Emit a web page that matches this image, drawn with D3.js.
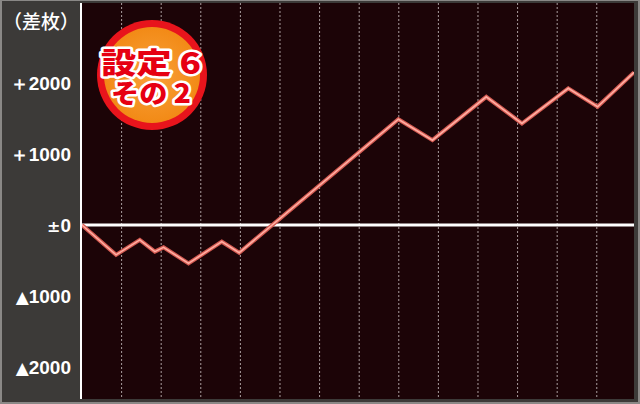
<!DOCTYPE html>
<html><head><meta charset="utf-8">
<script src="https://cdn.jsdelivr.net/npm/d3@7"></script>
<style>html,body{margin:0;padding:0;background:#3b3937;}svg{display:block;}</style>
</head><body>
<script>
const games = [0, 430, 730, 920, 1030, 1345, 1765, 1985, 3995, 4425, 5105, 5555, 6140, 6510, 6970];
const diff  = [0, -420, -210, -375, -315, -540, -235, -390, 1490, 1195, 1805, 1430, 1925, 1665, 2150];
const gridGames = [500,1000,1500,2000,2500,3000,3500,4000,4500,5000,5500,6000,6500];
const yTicks = [2000, 1000, 0, -1000, -2000];
const yLabels = ["＋2000", "＋1000", "±0", "▲1000", "▲2000"];
const badgeLines = ["設定 6", "その 2"];

const W = 640, H = 404;
const svg = d3.select("body").append("svg").attr("width", W).attr("height", H);

const plot = {l: 82, r: 634, t: 3, b: 399};
const x = d3.scaleLinear().domain([0, 6970]).range([plot.l, plot.r]);
const y = d3.scaleLinear().domain([0, 1000]).range([225, 154]);

// outer frame
svg.append("rect").attr("x",0).attr("y",0).attr("width",W).attr("height",H).attr("fill","#8a8886");
svg.append("rect").attr("x",2).attr("y",1).attr("width",W-4).attr("height",H-3).attr("fill","#3c3a38");
svg.append("rect").attr("x",plot.l).attr("y",plot.t).attr("width",plot.r-plot.l).attr("height",plot.b-plot.t).attr("fill","#1c0407");

const defs = svg.append("defs");
defs.append("clipPath").attr("id","clip").append("rect")
  .attr("x",plot.l).attr("y",plot.t).attr("width",plot.r-plot.l).attr("height",plot.b-plot.t);

// vertical dotted grid
svg.append("g").selectAll("line").data(gridGames).join("line")
  .attr("x1", d => x(d)).attr("x2", d => x(d))
  .attr("y1", plot.t).attr("y2", plot.b)
  .attr("stroke", "#d8d0d0").attr("stroke-opacity", 0.75)
  .attr("stroke-width", 1).attr("stroke-dasharray", "2,2");

// left axis line
svg.append("line").attr("x1",81).attr("x2",81).attr("y1",plot.t).attr("y2",plot.b)
  .attr("stroke","#ffffff").attr("stroke-width",2);

// zero line
svg.append("line").attr("x1",plot.l).attr("x2",plot.r).attr("y1",y(0)).attr("y2",y(0))
  .attr("stroke","#ffffff").attr("stroke-width",3);

// y labels
const yAxis = d3.axisLeft(y).tickValues(yTicks).tickSize(0).tickPadding(0)
  .tickFormat((d,i) => yLabels[i]);
const ga = svg.append("g").attr("transform","translate(71,0)").call(yAxis);
ga.select(".domain").remove();
ga.selectAll("text").attr("fill","#ffffff").attr("font-size","19px").attr("font-weight","bold")
  .attr("font-family","'Liberation Sans','Noto Sans CJK JP',sans-serif").attr("dy","0.36em")
  .each(function(d,i){
    const t = d3.select(this); const s = yLabels[i];
    t.text(null);
    const first = s[0], rest = s.slice(1);
    t.append("tspan").attr("font-family","'DejaVu Sans',sans-serif")
      .attr("font-size", first === "▲" ? "17px" : (first === "±" ? "16px" : "19px"))
      .attr("font-weight", first === "▲" ? "normal" : "bold").text(first);
    t.append("tspan").text(rest);
  });
svg.append("text").attr("x",41).attr("y",22).attr("dy","0.36em").attr("text-anchor","middle")
  .attr("fill","#ffffff").attr("font-size","19px").attr("font-family","'Noto Sans CJK JP',sans-serif")
  .attr("font-weight","500").text("（差枚）");

// line
const line = d3.line().x((d,i) => x(games[i])).y(d => y(d));
const g = svg.append("g").attr("clip-path","url(#clip)");
g.append("path").datum(diff).attr("d", line).attr("fill","none")
  .attr("stroke","#d45a52").attr("stroke-width",4).attr("stroke-linejoin","miter");
g.append("path").datum(diff).attr("d", line).attr("fill","none")
  .attr("stroke","#ffaea2").attr("stroke-width",1.6).attr("stroke-linejoin","miter");

// badge
const rg = defs.append("radialGradient").attr("id","bg").attr("cx","50%").attr("cy","50%").attr("r","50%");
rg.append("stop").attr("offset","0%").attr("stop-color","#f9a13a");
rg.append("stop").attr("offset","100%").attr("stop-color","#f28a16");
svg.append("circle").attr("cx",152).attr("cy",75).attr("r",55).attr("fill","#e8141c");
svg.append("circle").attr("cx",152).attr("cy",75).attr("r",48).attr("fill","url(#bg)");
const bt = svg.append("g").attr("font-family","'Noto Sans CJK JP',sans-serif").attr("font-weight","900")
  .attr("text-anchor","middle");
bt.selectAll("text").data(badgeLines).join("text")
  .attr("x",151).attr("y",(d,i) => i===0 ? 74 : 103)
  .attr("font-size",(d,i) => i===0 ? "29px" : "26px")
  .attr("textLength",(d,i) => i===0 ? 100 : 80).attr("lengthAdjust","spacingAndGlyphs")
  .attr("fill","#e60012").attr("stroke","#ffffff").attr("stroke-width",5)
  .attr("paint-order","stroke").attr("stroke-linejoin","round")
  .text(d => d);
</script>
</body></html>
